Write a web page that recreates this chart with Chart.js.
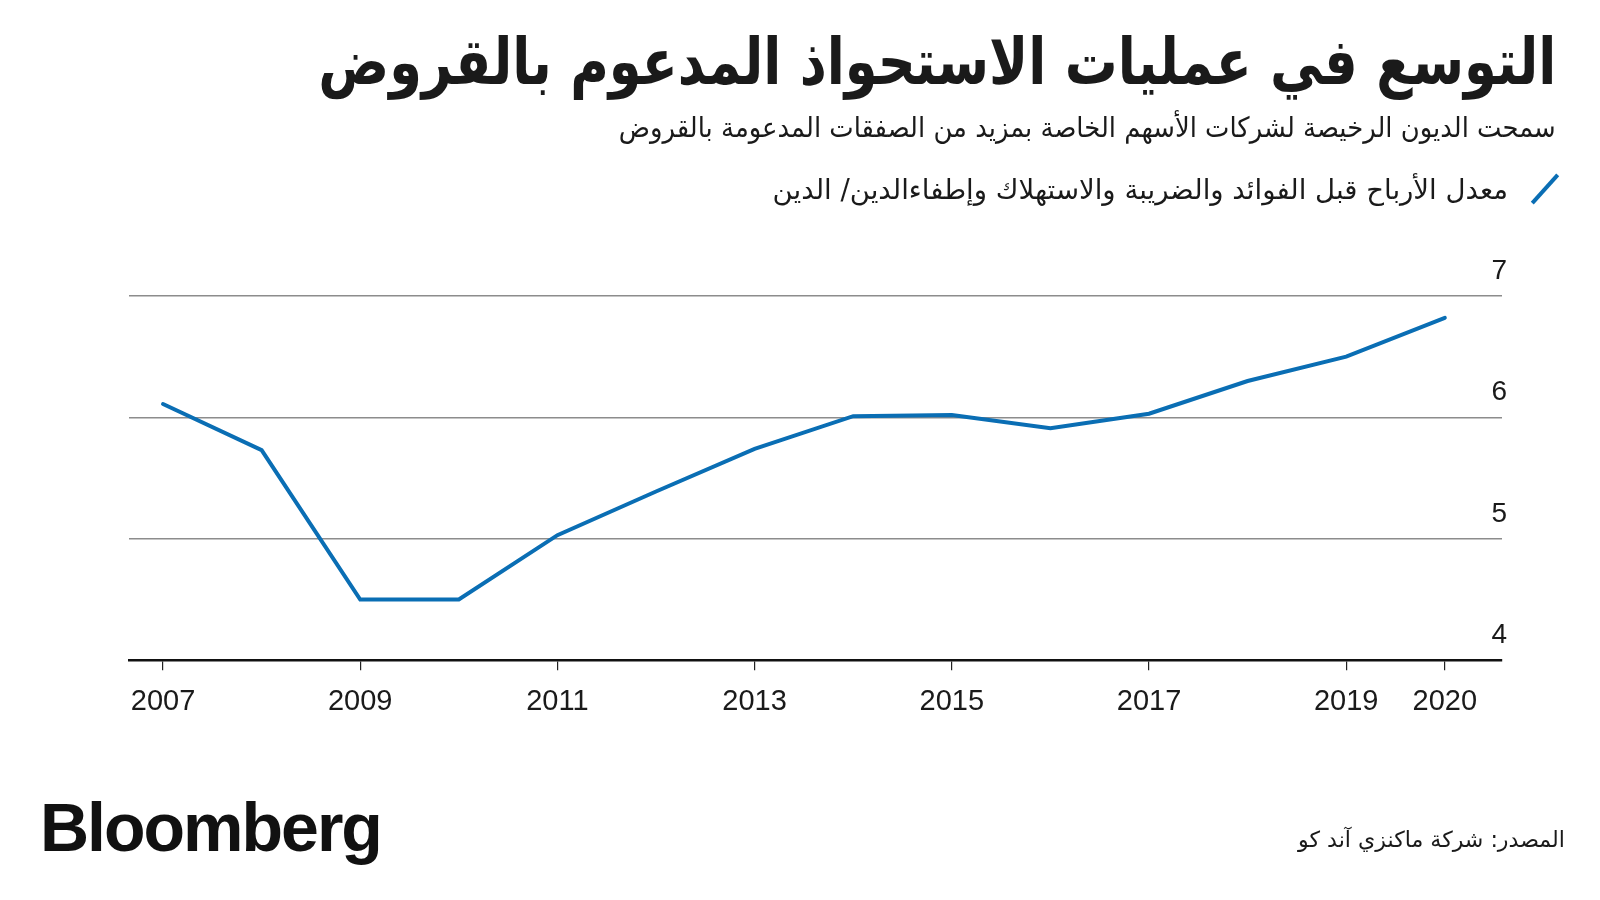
<!DOCTYPE html>
<html lang="ar">
<head>
<meta charset="utf-8">
<script src="https://cdn.jsdelivr.net/npm/chart.js@4/dist/chart.umd.min.js"></script>
<style>
  html, body { margin: 0; padding: 0; background: #fff; }
  #wrap { position: relative; width: 1600px; height: 900px; overflow: hidden; }
  #chart { position: absolute; left: 0; top: 0; }
  .ar { position: absolute; direction: rtl; white-space: nowrap; font-family: "DejaVu Sans", sans-serif; color: #1a1a1a; line-height: 1; transform-origin: right center; }
  #title { right: 44px; top: 30px; font-weight: bold; font-size: 64px; }
  #subtitle { right: 44px; top: 114px; font-size: 28px; }
  #legendText { right: 92px; top: 176px; font-size: 25px; }
  #slash { position: absolute; left: 1526px; top: 187px; width: 38px; height: 4px; background: #0a6eb4; transform: rotate(-48deg); }
  #source { right: 35px; top: 828px; font-size: 22px; }
  #logo { position: absolute; left: 40px; top: 788px; font-family: "Liberation Sans", Arial, sans-serif; font-weight: bold; font-size: 68px; letter-spacing: -2px; color: #111; }
</style>
</head>
<body>
<div id="wrap">
  <canvas id="chart" width="1600" height="900"></canvas>
  <div class="ar" id="title" data-w="1238" data-mode="squeeze">التوسع في عمليات الاستحواذ المدعوم بالقروض</div>
  <div class="ar" id="subtitle" data-w="937" data-mode="squeeze">سمحت الديون الرخيصة لشركات الأسهم الخاصة بمزيد من الصفقات المدعومة بالقروض</div>
  <div id="slash"></div>
  <div class="ar" id="legendText" data-w="736">معدل الأرباح قبل الفوائد والضريبة والاستهلاك وإطفاءالدين/ الدين</div>
  <div class="ar" id="source" data-w="267">المصدر: شركة ماكنزي آند كو</div>
  <div id="logo">Bloomberg</div>
</div>
<script>
// السنوات والقيم
const years = [2007, 2008, 2009, 2010, 2011, 2012, 2013, 2014, 2015, 2016, 2017, 2018, 2019, 2020];
const ebitdaDebt = [6.11, 5.73, 4.50, 4.50, 5.03, 5.39, 5.74, 6.01, 6.02, 5.91, 6.03, 6.30, 6.50, 6.82];
const xTickYears = [2007, 2009, 2011, 2013, 2015, 2017, 2019, 2020];
const yTicks = [4, 5, 6, 7];

// ضبط النصوص على العرض المطلوب
document.querySelectorAll('[data-w]').forEach(el => {
    const target = +el.dataset.w;
    const w = el.getBoundingClientRect().width;
    if (el.dataset.mode === 'squeeze') {
        el.style.transform = 'scaleX(' + (target / w) + ')';
    } else {
        const size = parseFloat(getComputedStyle(el).fontSize);
        el.style.fontSize = (size * target / w) + 'px';
    }
});

const points = years.map((y, i) => ({ x: y, y: ebitdaDebt[i] }));

new Chart(document.getElementById('chart').getContext('2d'), {
    type: 'line',
    data: {
        datasets: [{
            data: points,
            borderColor: '#0a6eb4',
            borderWidth: 4,
            pointRadius: 0,
            tension: 0,
            borderCapStyle: 'round'
        }]
    },
    options: {
        responsive: false,
        animation: false,
        layout: { padding: { left: 129, right: 88, top: 296, bottom: 167 } },
        plugins: { legend: { display: false }, tooltip: { enabled: false } },
        scales: {
            x: {
                type: 'linear',
                min: 2006.655,
                max: 2020.58,
                afterBuildTicks: s => { s.ticks = xTickYears.map(v => ({ value: v })); },
                grid: { drawOnChartArea: false, drawTicks: true, tickLength: 10, color: '#222', lineWidth: 1.2 },
                border: { display: true, color: '#111', width: 2.5 },
                ticks: {
                    padding: 14,
                    color: '#1a1a1a',
                    font: { family: 'Liberation Sans', size: 29 },
                    maxRotation: 0,
                    autoSkip: false,
                    callback: v => String(v)
                }
            },
            y: {
                position: 'right',
                min: 4,
                max: 7,
                afterBuildTicks: s => { s.ticks = yTicks.map(v => ({ value: v })); },
                grid: {
                    drawTicks: false,
                    color: ctx => ctx.tick && ctx.tick.value === 4 ? 'rgba(0,0,0,0)' : '#8c8c8c',
                    lineWidth: 1.5
                },
                border: { display: false },
                ticks: {
                    mirror: true,
                    padding: 5,
                    labelOffset: -25,
                    color: '#1a1a1a',
                    font: { family: 'Liberation Sans', size: 28 }
                }
            }
        }
    }
});
</script>
</body>
</html>
